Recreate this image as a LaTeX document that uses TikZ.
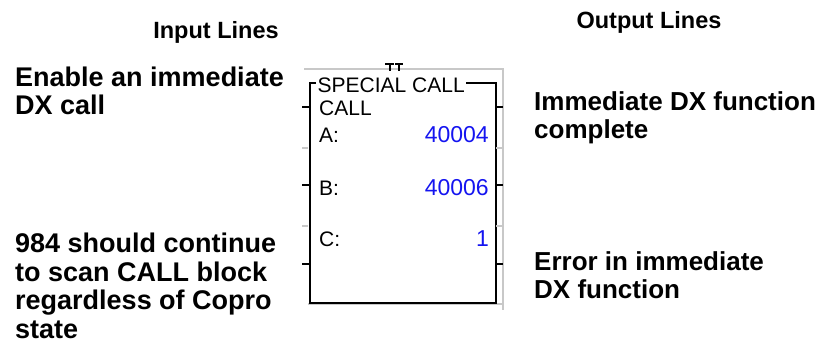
\documentclass[tikz,border=0pt]{standalone}
\usepackage{fontspec}
\setmainfont{Liberation Sans}
\usetikzlibrary{positioning}
\definecolor{FrameGray}{HTML}{C8C8C8}
\definecolor{ValBlue}{HTML}{1414F0}
\begin{document}
\begin{tikzpicture}[x=1pt,y=-1pt,
  heading/.style={font=\fontsize{23.5}{26}\selectfont\bfseries,inner sep=0pt},
  note/.style={font=\fontsize{26}{28}\selectfont\bfseries,align=left,anchor=north west,inner sep=0pt},
  blockbox/.style={draw,line width=1.6pt,minimum width=186pt,minimum height=220pt,inner sep=0pt,anchor=north west},
  boxtext/.style={font=\fontsize{21}{24}\selectfont,inner sep=0pt},
  value/.style={font=\fontsize{23}{24}\selectfont,inner sep=0pt,text=ValBlue,anchor=base east},
  pin/.style={line width=1.5pt},
  graypin/.style={FrameGray,line width=1.3pt},
]
\useasboundingbox (0,0) rectangle (822,356);
% headings
\node[heading] (inhead) at (216,32) {Input Lines};
\node[heading] (outhead) at (649,22) {Output Lines};
% gray frame behind the block
\draw[graypin] (304,69) -- (503,69) -- (503,310);
\draw[graypin] (308,304) -- (503,304);
% the block
\node[blockbox] (blk) at (309,82) {};
\node[boxtext,fill=white,inner xsep=1.5pt,inner ysep=1pt,anchor=base west] (blkname) at (316,92) {SPECIAL CALL};
\node[boxtext,anchor=base west] (blkcall) at (319,115) {CALL};
\node[boxtext,anchor=base west] (rega) at (319,142) {A:};
\node[boxtext,anchor=base west] (regb) at (319,195) {B:};
\node[boxtext,anchor=base west] (regc) at (319,246) {C:};
\node[value] (vala) at (489,142) {40004};
\node[value] (valb) at (489,195) {40006};
\node[value] (valc) at (489,246) {1};
% mark above the block
\draw[line width=1.2pt] (385,64) -- (394,64) (390,64) -- (390,71);
\draw[line width=1.2pt] (395,64) -- (403,64) (399,64) -- (399,71);
% pins
\foreach \ty in {107,185,264} {
  \draw[pin] (302,\ty) -- (309,\ty);
  \draw[pin] (495,\ty) -- (503,\ty);
}
\foreach \ty in {148,226} {
  \draw[graypin] (302,\ty) -- (308,\ty);
  \draw[graypin] (496,\ty) -- (503,\ty);
}
% input notes
\node[note,font=\fontsize{27}{28}\selectfont\bfseries] (enable) at (15,67) {Enable an immediate\\DX call};
\node[note,font=\fontsize{27}{28.5}\selectfont\bfseries] (scan) at (15,233) {984 should continue\\to scan CALL block\\regardless of Copro\\state};
% output notes
\node[note] (done) at (534,91) {Immediate DX function\\complete};
\node[note] (error) at (534,251) {Error in immediate\\DX function};
\end{tikzpicture}
\end{document}
